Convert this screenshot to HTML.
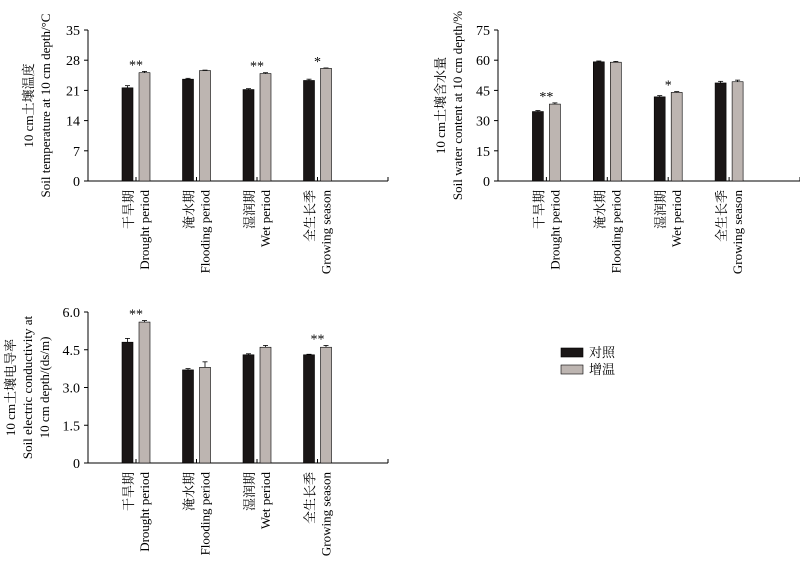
<!DOCTYPE html>
<html><head><meta charset="utf-8"><style>
body{margin:0;background:#fff}
svg{display:block;font-family:"Liberation Serif","Noto Serif CJK SC",serif}
</style></head><body>
<svg id="s" width="800" height="565" viewBox="0 0 800 565" xmlns="http://www.w3.org/2000/svg">
<g>
<rect x="561" y="348" width="22" height="9" fill="#1a1616" stroke="#000" stroke-width="0.6"/>
<text x="589" y="357" font-size="13" font-family="Liberation Serif,Noto Serif CJK SC,serif">对照</text>
<rect x="561" y="365" width="22" height="9" fill="#bdb5b1" stroke="#000" stroke-width="0.6"/>
<text x="589" y="374" font-size="13">增温</text>
</g>
</svg>
<script>
const cats=[["干旱期","Drought period"],["淹水期","Flooding period"],["湿润期","Wet period"],["全生长季","Growing season"]];
const tempCtrl=[21.6,23.6,21.2,23.3], tempWarm=[25.1,25.6,24.9,26.1];
const tempCtrlErr=[0.5,0.2,0.2,0.3], tempWarmErr=[0.3,0.1,0.2,0.1];
const tempSig=["**","","**","*"];
const tempTicks=["0","7","14","21","28","35"];
const waterCtrl=[34.5,59.2,41.8,48.7], waterWarm=[38.2,59.0,44.0,49.3];
const waterCtrlErr=[0.5,0.4,0.6,0.8], waterWarmErr=[0.6,0.4,0.4,0.8];
const waterSig=["**","","*",""];
const waterTicks=["0","15","30","45","60","75"];
const ecCtrl=[4.8,3.7,4.3,4.3], ecWarm=[5.6,3.8,4.6,4.6];
const ecCtrlErr=[0.15,0.05,0.04,0.02], ecWarmErr=[0.06,0.22,0.07,0.07];
const ecSig=["**","","","**"];
const ecTicks=["0","1.5","3.0","4.5","6.0"];

const NS="http://www.w3.org/2000/svg";
const svg=document.getElementById('s');
function mk(tag,attrs,parent){const e=document.createElementNS(NS,tag);for(const k in attrs)e.setAttribute(k,attrs[k]);(parent||svg).appendChild(e);return e;}

function chart(cfg){
  const g=mk('g',{});
  
  
  const {x0,x1,yTop,yBot,max}=cfg;
  const y=v=>yBot-(v/max)*(yBot-yTop);
  const slot=(x1-x0)/5;
  const cx=i=>x0+slot*(i+1)-12+ (i*0.5);
  // axes
  const ax=mk('line',{x1:x0,y1:yTop,x2:x0,y2:yBot,stroke:'#000','stroke-width':1},g);
  
  
  const bx=mk('line',{x1:x0,y1:yBot,x2:x1,y2:yBot,stroke:'#000','stroke-width':1},g);
  
  
  mk('line',{x1:x1,y1:yBot,x2:x1,y2:yBot-4,stroke:'#000'},g);
  cfg.ticks.forEach(t=>{
    const v=parseFloat(t), yy=y(v);
    mk('line',{x1:x0-4,y1:yy,x2:x0,y2:yy,stroke:'#000'},g);
    const tx=mk('text',{x:x0-8,y:yy+5,'text-anchor':'end','font-size':14},g);
    tx.textContent=t;
    
    
  });
  cats.forEach((c,i)=>{
    const c0=cx(i);
    mk('line',{x1:c0,y1:yBot,x2:c0,y2:yBot-4,stroke:'#000'},g);
    [[cfg.ctrl,cfg.ctrlErr,'#1a1616',-14,'bar-control'],[cfg.warm,cfg.warmErr,'#bdb5b1',3,'bar-warming']].forEach(([arr,err,col,off,nm])=>{
      const v=arr[i], top=y(v);
      const r=mk('rect',{x:c0+off,y:top,width:11,height:yBot-top,fill:col,stroke:'#000','stroke-width':0.6},g);
      
      
      const ey=y(v+err[i]), mx=c0+off+5.5;
      mk('line',{x1:mx,y1:top,x2:mx,y2:ey,stroke:'#000','stroke-width':0.8},g);
      mk('line',{x1:mx-2.5,y1:ey,x2:mx+2.5,y2:ey,stroke:'#000','stroke-width':0.8},g);
    });
    if(cfg.sig[i]){
      const s=mk('text',{x:c0,y:y(cfg.warm[i]+cfg.warmErr[i])-2,'text-anchor':'middle','font-size':14},g);
      s.textContent=cfg.sig[i];
      
      
    }
    const l1=mk('text',{transform:`translate(${c0-3},${yBot+9}) rotate(-90)`,'text-anchor':'end','font-size':13},g);
    l1.textContent=c[0];
    
    
    const l2=mk('text',{transform:`translate(${c0+13},${yBot+9}) rotate(-90)`,'text-anchor':'end','font-size':13},g);
    l2.textContent=c[1];
    
    
  });
  const my=(yTop+yBot)/2;
  cfg.title.forEach((t,k)=>{
    const tt=mk('text',{transform:`translate(${cfg.tx+k*17},${my}) rotate(-90)`,'text-anchor':'middle','font-size':13},g);
    tt.textContent=t;
    
    
  });
}
chart({name:'temperature-chart',x0:88,x1:388,yTop:30,yBot:181,max:35,ctrl:tempCtrl,warm:tempWarm,ctrlErr:tempCtrlErr,warmErr:tempWarmErr,sig:tempSig,ticks:tempTicks,tx:33,title:["10 cm土壤温度","Soil temperature at 10 cm depth/°C"]});
chart({name:'water-content-chart',x0:498,x1:800,yTop:30,yBot:181,max:75,ctrl:waterCtrl,warm:waterWarm,ctrlErr:waterCtrlErr,warmErr:waterWarmErr,sig:waterSig,ticks:waterTicks,tx:445,title:["10 cm土壤含水量","Soil water content at 10 cm depth/%"]});
chart({name:'conductivity-chart',x0:88,x1:388,yTop:312,yBot:463,max:6,ctrl:ecCtrl,warm:ecWarm,ctrlErr:ecCtrlErr,warmErr:ecWarmErr,sig:ecSig,ticks:ecTicks,tx:15,title:["10 cm土壤电导率","Soil electric conductivity at","10 cm depth/(ds/m)"]});
</script>
</body></html>
